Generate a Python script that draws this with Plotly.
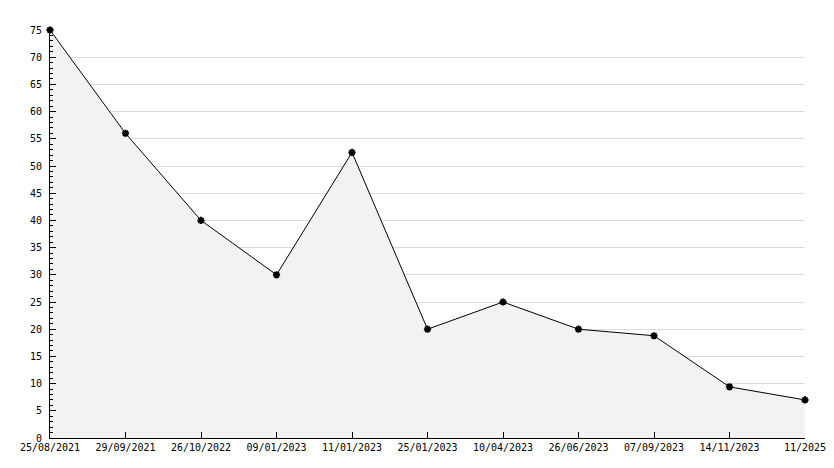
import plotly.graph_objects as go

dates = ["25/08/2021", "29/09/2021", "26/10/2022", "09/01/2023", "11/01/2023",
         "25/01/2023", "10/04/2023", "26/06/2023", "07/09/2023", "14/11/2023", "11/2025"]
values = [75, 56, 40, 30, 52.5, 20, 25, 20, 18.8, 9.4, 7]
y_ticks = list(range(0, 80, 5))

fig = go.Figure()
fig.add_trace(go.Scatter(
    x=dates, y=values, mode="lines+markers", fill="tozeroy",
    fillcolor="#f2f2f2",
    line=dict(color="black", width=1),
    marker=dict(symbol="asterisk-open", size=6, color="black",
                line=dict(color="black", width=2)),
    cliponaxis=False,
))
fig.update_layout(
    width=826, height=460,
    margin=dict(l=42, r=29, t=22, b=30, autoexpand=False),
    paper_bgcolor="white", plot_bgcolor="white",
    showlegend=False,
    font=dict(family="DejaVu Sans Mono", size=10, color="black"),
)
fig.update_xaxes(
    type="category", range=[0, len(dates) - 1],
    showline=True, linecolor="black", linewidth=1,
    ticks="inside", ticklen=6, tickcolor="black",
    showgrid=False, zeroline=False, automargin=False,
)
fig.update_yaxes(
    range=[0, 75], tickvals=y_ticks,
    showline=True, linecolor="black", linewidth=1,
    ticks="inside", ticklen=6, tickcolor="black", ticklabelstandoff=5,
    showgrid=True, gridcolor="#dcdcdc", gridwidth=1, zeroline=False,
    automargin=False,
    minor=dict(dtick=1, ticks="inside", ticklen=3, tickcolor="black", showgrid=False),
)
fig.write_html("out.html")
